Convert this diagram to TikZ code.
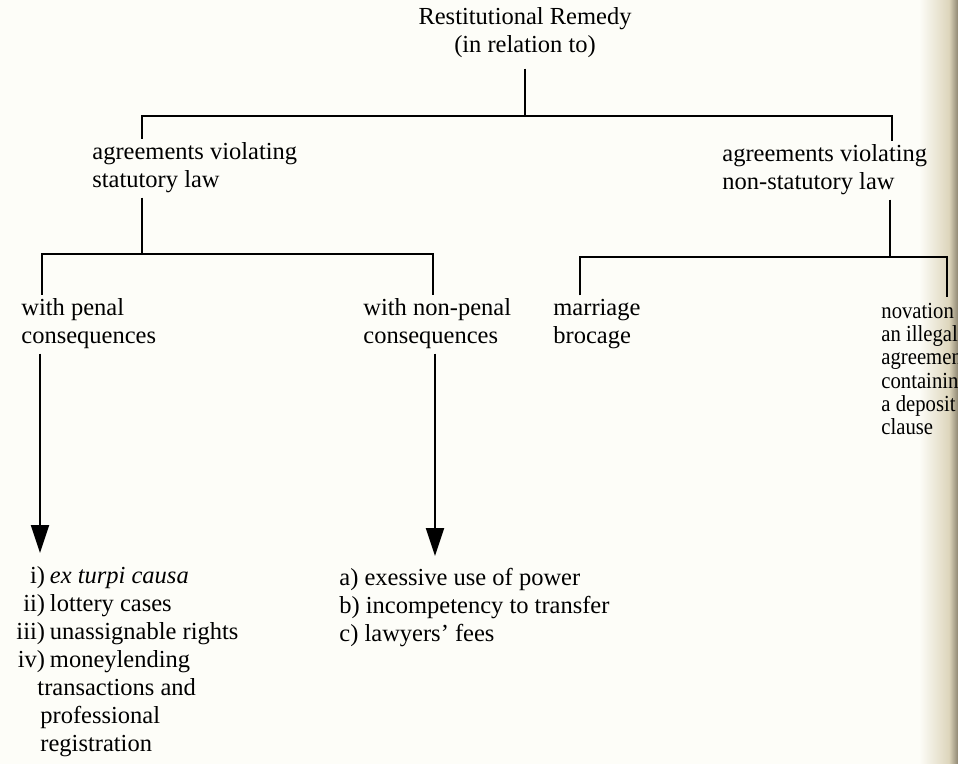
\documentclass[tikz,border=0pt]{standalone}
\usepackage{fontspec}
\setmainfont{Liberation Serif}
\newfontfamily\narrowfont[FakeStretch=0.9]{Liberation Serif}
\usetikzlibrary{arrows.meta}
\definecolor{paper}{HTML}{FDFDF8}
\definecolor{gutter}{HTML}{DCD4BA}
\definecolor{gutterdark}{HTML}{8E8672}
\newcommand{\itm}[1]{\makebox[1.17em][r]{#1}\hspace{0.2em}}
\begin{document}
\begin{tikzpicture}[x=0.5pt, y=-0.5pt, font=\fontsize{12.25}{14}\selectfont,
    lbl/.style={anchor=base west, align=left, inner sep=2pt},
    tree/.style={line width=1.1pt},
    arr/.style={line width=1pt, -{Triangle[width=9pt, length=14pt]}}]
            \useasboundingbox (0,0) rectangle (958,764);
            \clip (0,0) rectangle (958,764);

            % Page and gutter
            \fill[paper] (0,0) rectangle (920,764);
            \shade[left color=paper, right color=gutter] (919,0) rectangle (950,764);
            \shade[left color=gutter, right color=gutterdark] (949,0) rectangle (958,764);

            % Root (base = last line)
            \node[lbl, anchor=base, align=center] (root) at (525,53) {Restitutional Remedy\\(in relation to)};

            % First level
            \node[lbl] (statL) at (88,188) {agreements violating\\statutory law};
            \node[lbl] (statR) at (718,190) {agreements violating\\non-statutory law};

            % Second level
            \node[lbl] (penal) at (17,344) {with penal\\consequences};
            \node[lbl] (nonpenal) at (359,344) {with non-penal\\consequences};
            \node[lbl] (marriage) at (549,344) {marriage\\brocage};
            \node[lbl, font=\narrowfont\fontsize{11.5}{11.7}\selectfont] (novation) at (877,435)
                {novation of\\an illegal\\agreement\\containing\\a deposit\\clause};

            % Lists
            \node[lbl] (listL) at (12,751) {\itm{i)}\textit{ex turpi causa}\\\itm{ii)}lottery cases\\\itm{iii)}unassignable rights\\\itm{iv)}moneylending\\\hspace*{0.86em}transactions and\\\hspace*{0.98em}professional\\\hspace*{0.98em}registration};
            \node[lbl] (listM) at (335,641) {a) exessive use of power\\b) incompetency to transfer\\c) lawyers' fees};

            % Top branches
            \coordinate (topL) at (142,116);
            \coordinate (topR) at (892,116);
            \draw[tree, shorten <=3pt] (root.south) -- (root.south |- topL);
            \draw[tree] (statL.north -| topL) -- (topL) -- (topR) -- (statR.north -| topR);

            % Statutory branches
            \coordinate (midL) at (142,254);
            \coordinate (lowL) at (42,254);
            \coordinate (lowR) at (433,254);
            \draw[tree] (statL.south -| midL) -- (midL);
            \draw[tree] (penal.north -| lowL) -- (lowL) -- (lowR) -- (nonpenal.north -| lowR);

            % Non-statutory branches
            \coordinate (midR) at (890,257);
            \coordinate (lowRL) at (580,257);
            \coordinate (lowRR) at (947,257);
            \draw[tree] (statR.south -| midR) -- (midR);
            \draw[tree] (marriage.north -| lowRL) -- (lowRL) -- (lowRR) -- (novation.north -| lowRR);

            % Arrows to the lists
            \coordinate (tipL) at (40,553);
            \coordinate (tipM) at (435,556);
            \draw[arr] (penal.south -| tipL) -- (tipL);
            \draw[arr] (nonpenal.south -| tipM) -- (tipM);

\end{tikzpicture}
\end{document}
